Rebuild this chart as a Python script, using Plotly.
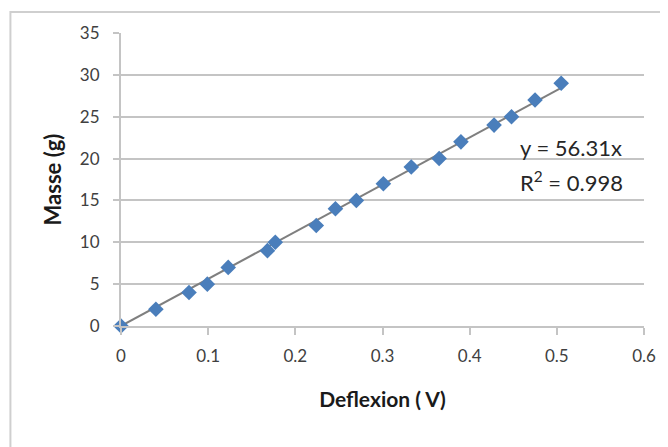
import plotly.graph_objects as go

deflexion = [0, 0.040, 0.078, 0.099, 0.123, 0.168, 0.177, 0.224, 0.246, 0.270,
             0.301, 0.333, 0.365, 0.390, 0.428, 0.448, 0.475, 0.505]
masse = [0, 2, 4, 5, 7, 9, 10, 12, 14, 15, 17, 19, 20, 22, 24, 25, 27, 29]
slope = 56.31
r2 = 0.998
x_ticks = [0, 0.1, 0.2, 0.3, 0.4, 0.5, 0.6]
y_ticks = [0, 5, 10, 15, 20, 25, 30, 35]

trend_x = [0, max(deflexion)]
trend_y = [slope * v for v in trend_x]

FONT = "Lato, 'Open Sans', sans-serif"
GRID = "#c4c4c4"

# page body has an 8px default margin; figure is sized to fill the window
W, H = 660, 439
L, T = 113, 25
PW, PH = 525, 293

fig = go.Figure()
fig.add_trace(go.Scatter(x=trend_x, y=trend_y, mode="lines", cliponaxis=False,
                         line=dict(color="#7f7f7f", width=2), showlegend=False))
fig.add_trace(go.Scatter(x=deflexion, y=masse, mode="markers", cliponaxis=False,
                         marker=dict(symbol="diamond", size=12, color="#4a7ebb",
                                     line=dict(width=0)), showlegend=False))

fig.add_annotation(xref="paper", yref="paper", x=(520 - 121) / PW, y=(326 - 147) / PH,
                   text=f"y = {slope}x", showarrow=False, xanchor="left", yanchor="middle",
                   font=dict(family=FONT, size=22, color="#262626"))
fig.add_annotation(xref="paper", yref="paper", x=(520 - 121) / PW, y=(326 - 181) / PH,
                   text=f"R<sup>2</sup> = {r2}", showarrow=False, xanchor="left", yanchor="middle",
                   font=dict(family=FONT, size=22, color="#262626"))

# chart area border (left and top edges visible)
fig.add_shape(type="rect", xref="paper", yref="paper",
              x0=(10 - 121) / PW, x1=(680 - 121) / PW,
              y0=(326 - 460) / PH, y1=(326 - 12) / PH,
              line=dict(color="#cfcfcf", width=2), fillcolor="rgba(0,0,0,0)", layer="below")

fig.update_layout(
    width=W, height=H,
    margin=dict(l=L, r=W - L - PW, t=T, b=H - T - PH),
    paper_bgcolor="white", plot_bgcolor="white",
    font=dict(family=FONT, color="#404040"),
    xaxis=dict(range=[0, 0.6], tickvals=x_ticks, ticktext=[f"{v:g}" for v in x_ticks],
               showgrid=False, zeroline=False, showline=True, linecolor=GRID, linewidth=2,
               ticks="outside", ticklen=7, tickcolor=GRID, tickwidth=1.5,
               tickfont=dict(size=17, color="#404040"), ticklabelstandoff=7,
               title=dict(text="<b>Deflexion ( V)</b>", font=dict(size=21, color="#1a1a1a"), standoff=27)),
    yaxis=dict(range=[0, 35], tickvals=y_ticks,
               showgrid=True, gridcolor=GRID, gridwidth=2, zeroline=False,
               showline=True, linecolor=GRID, linewidth=2,
               ticks="outside", ticklen=6, tickcolor=GRID, tickwidth=1.5,
               tickfont=dict(size=17, color="#404040"), ticklabelstandoff=10,
               title=dict(text="<b>Masse (g)</b>", font=dict(size=22, color="#1a1a1a"), standoff=12)),
)

fig.write_html("out.html")
